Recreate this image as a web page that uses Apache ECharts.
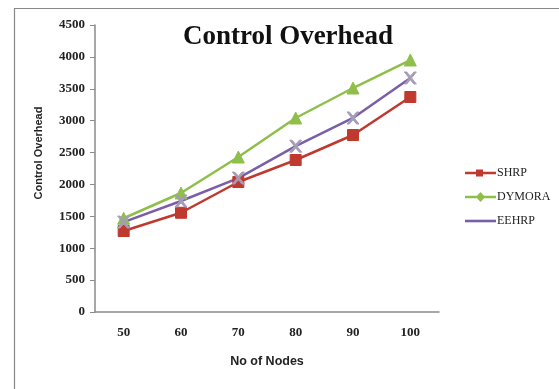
<!DOCTYPE html>
<html>
<head>
<meta charset="utf-8">
<script src="https://cdn.jsdelivr.net/npm/echarts@6/dist/echarts.min.js"></script>
<style>
html,body{margin:0;padding:0;background:#fff;}
#chart{width:559px;height:389px;}
</style>
</head>
<body>
<div id="chart"></div>
<script>
// Number of nodes in the network
const nodes = ['50', '60', '70', '80', '90', '100'];

// Control overhead per protocol
const shrp = [1270, 1556, 2038, 2383, 2775, 3371];
const dymora = [1470, 1866, 2430, 3042, 3512, 3951];
const eehrp = [1410, 1740, 2100, 2600, 3042, 3669];

const yTicks = { min: 0, max: 4500, interval: 500 };

const serif = 'Liberation Serif';
const sans = 'Liberation Sans';

const colors = { shrp: '#c0392f', dymora: '#8fbf4a', eehrp: '#7a5ea8' };

function lineSeries(name, data, color, symbol, size, symbolColor) {
  return {
    name: name,
    type: 'line',
    data: data,
    symbol: symbol,
    symbolSize: size,
    lineStyle: { color: color, width: 2.5 },
    itemStyle: { color: symbolColor || color, borderColor: symbolColor || color },
    emphasis: { disabled: true }
  };
}

const chart = echarts.init(document.getElementById('chart'));
chart.setOption({
  animation: false,
  title: {
    text: 'Control Overhead',
    left: 283,
    textAlign: 'center',
    top: 19,
    textStyle: { fontFamily: serif, fontSize: 27, fontWeight: 'bold', color: '#111' }
  },
  grid: { left: 95, right: 120, top: 25, bottom: 77 },
  legend: {
    orient: 'vertical',
    left: 460,
    top: 162,
    itemGap: 12,
    itemWidth: 31,
    itemHeight: 11,
    textStyle: { fontFamily: serif, fontSize: 12, color: '#222', padding: [0, 0, 0, -4] },
    data: [
      { name: 'SHRP', itemStyle: { color: colors.shrp },
        icon: 'path://M0,4.2L11,4.2L11,2L18,2L18,4.2L31,4.2L31,6.8L18,6.8L18,9L11,9L11,6.8L0,6.8Z' },
      { name: 'DYMORA', itemStyle: { color: colors.dymora },
        icon: 'path://M0,4.2L12,4.2L15.5,0.5L19,4.2L31,4.2L31,6.8L19,6.8L15.5,10.5L12,6.8L0,6.8Z' },
      { name: 'EEHRP', itemStyle: { color: colors.eehrp },
        icon: 'path://M0,4.2L31,4.2L31,6.8L0,6.8Z' }
    ]
  },
  xAxis: {
    type: 'category',
    data: nodes,
    boundaryGap: true,
    name: 'No of Nodes',
    nameLocation: 'middle',
    nameGap: 43,
    nameTextStyle: { fontFamily: sans, fontSize: 12.5, fontWeight: 'bold', color: '#222' },
    axisLine: { lineStyle: { color: '#8a8a8a', width: 1.5 } },
    axisTick: { alignWithLabel: false, length: 5, lineStyle: { color: '#8a8a8a' } },
    axisLabel: { fontFamily: serif, fontSize: 13, fontWeight: 'bold', color: '#222', margin: 14 }
  },
  yAxis: {
    type: 'value',
    min: yTicks.min,
    max: yTicks.max,
    interval: yTicks.interval,
    axisLine: { show: true, lineStyle: { color: '#8a8a8a', width: 1.5 } },
    axisTick: { show: true, length: 5, lineStyle: { color: '#8a8a8a' } },
    splitLine: { show: false },
    axisLabel: {
      fontFamily: serif, fontSize: 13, fontWeight: 'bold', color: '#222', margin: 10,
      formatter: function (v) { return String(v); }
    }
  },
  series: [
    lineSeries('SHRP', shrp, colors.shrp, 'rect', 11),
    lineSeries('DYMORA', dymora, colors.dymora, 'triangle', 12),
    lineSeries('EEHRP', eehrp, colors.eehrp, 'path://M0,0L2,0L5,3.5L8,0L10,0L6,5L10,10L8,10L5,6.5L2,10L0,10L4,5Z', 12, '#a59cb8')
  ],
  graphic: [{
    type: 'rect',
    left: 12,
    top: 6,
    shape: { width: 600, height: 420 },
    style: { fill: 'none', stroke: '#888', lineWidth: 1.2 },
    silent: true,
    z: -1
  }, {
    // vertical y-axis title
    type: 'text',
    x: 39,
    y: 153,
    rotation: Math.PI / 2,
    style: {
      text: 'Control Overhead',
      font: 'bold 11px "Liberation Sans"',
      fill: '#222',
      align: 'center',
      verticalAlign: 'middle'
    },
    silent: true
  }]
});
</script>
</body>
</html>
